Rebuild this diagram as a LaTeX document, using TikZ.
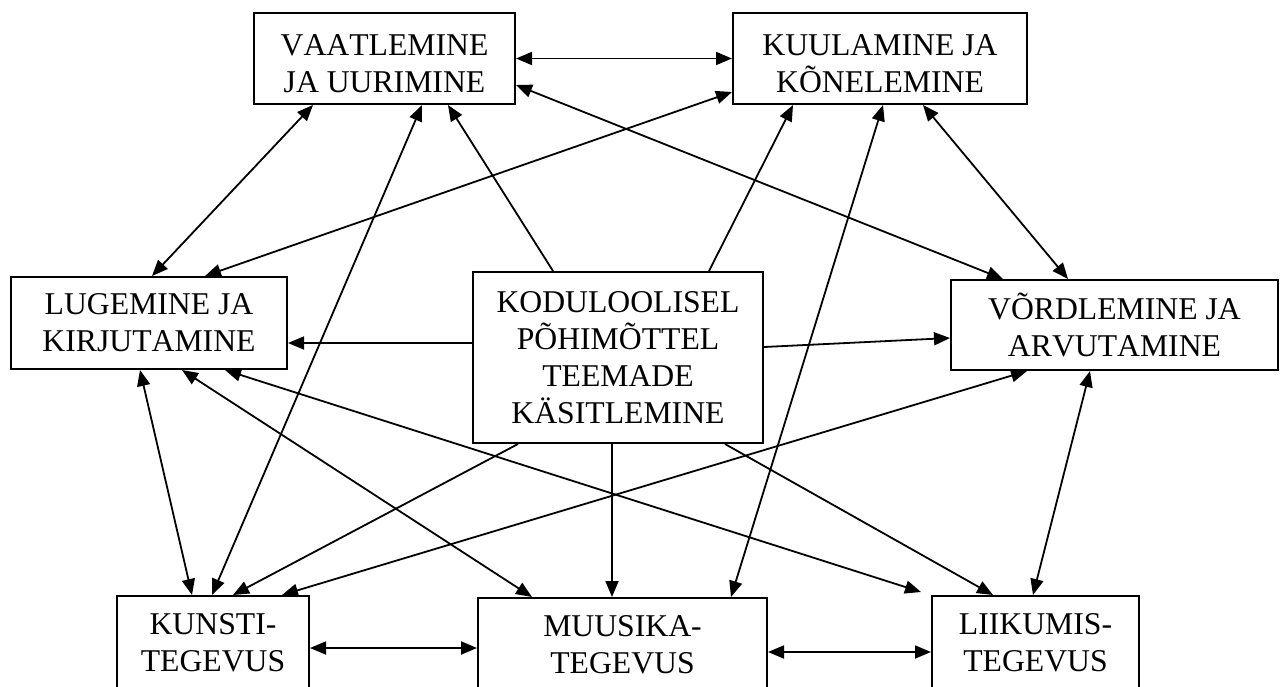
\documentclass[tikz,border=0pt]{standalone}
\usepackage{fontspec}
\setmainfont{Liberation Serif}[Kerning=Off]
\usetikzlibrary{arrows.meta}
\newcommand{\topgap}{\rule{0pt}{31pt}}
\tikzset{
  box/.style={draw, line width=2pt, align=center, inner sep=0pt,
    font=\fontsize{31.7}{37}\selectfont},
  link/.style={line width=1.8pt, -{Triangle[length=16pt,width=13pt]}},
  twoway/.style={line width=1.8pt,
    {Triangle[length=16pt,width=13pt]}-{Triangle[length=16pt,width=13pt]}},
}
\begin{document}
\begin{tikzpicture}[x=1pt,y=-1pt]
  \useasboundingbox (0,0) rectangle (1283,686);
  % boxes
  \node[box, minimum width=261pt, minimum height=91pt] (vaatl) at (384.5,58.5) {\topgap VAATLEMINE\\JA UURIMINE};
  \node[box, minimum width=294pt, minimum height=91pt] (kuul) at (880,58.5) {\topgap KUULAMINE JA\\KÕNELEMINE};
  \node[box, minimum width=276pt, minimum height=92pt] (luge) at (149,323) {LUGEMINE JA\\KIRJUTAMINE};
  \node[box, minimum width=290pt, minimum height=171pt] (kodu) at (618,357.5) {KODULOOLISEL\\PÕHIMÕTTEL\\TEEMADE\\KÄSITLEMINE};
  \node[box, minimum width=327pt, minimum height=90pt] (vord) at (1114.5,325) {VÕRDLEMINE JA\\ARVUTAMINE};
  \node[box, minimum width=192pt, minimum height=93pt] (kunsti) at (213,642.5) {KUNSTI-\\TEGEVUS};
  \node[box, minimum width=289pt, minimum height=94pt] (muus) at (622.5,645) {MUUSIKA-\\TEGEVUS};
  \node[box, minimum width=207pt, minimum height=94pt] (liik) at (1035.5,643) {LIIKUMIS-\\TEGEVUS};
  % from the centre box
  \draw[link] ([xshift=-65pt]kodu.north) -- ([xshift=63.5pt]vaatl.south);
  \draw[link] ([xshift=91pt]kodu.north) -- ([xshift=-87pt]kuul.south);
  \draw[link] ([yshift=14.5pt]kodu.west) -- ([yshift=-20pt]luge.east);
  \draw[link] ([yshift=10.5pt]kodu.east) -- ([yshift=-13pt]vord.west);
  \draw[link] ([xshift=-100pt]kodu.south) -- ([xshift=20pt]kunsti.north);
  \draw[link] ([xshift=-6pt]kodu.south) -- ([xshift=-10.5pt]muus.north);
  \draw[link] ([xshift=107pt]kodu.south) -- ([xshift=-42.5pt]liik.north);
  % both ways
  \draw[twoway] (vaatl.east) -- (kuul.west);
  \draw[twoway] ([yshift=-26.5pt]vaatl.east) -- ([xshift=-111.5pt]vord.north);
  \draw[twoway] ([yshift=-33.5pt]kuul.west) -- ([xshift=56pt]luge.north);
  \draw[twoway] ([xshift=-71.5pt]vaatl.south) -- ([xshift=3pt]luge.north);
  \draw[twoway] ([xshift=37.5pt]vaatl.south) -- ([xshift=-1pt]kunsti.north);
  \draw[twoway] ([xshift=3pt]kuul.south) -- ([xshift=108.5pt]muus.north);
  \draw[twoway] ([xshift=43pt]kuul.south) -- ([xshift=-46.5pt]vord.north);
  \draw[twoway] ([xshift=-9pt]luge.south) -- ([xshift=-21pt]kunsti.north);
  \draw[twoway] ([xshift=33pt]luge.south) -- ([xshift=-90.5pt]muus.north);
  \draw[twoway] ([xshift=76pt]luge.south) -- ([xshift=-10pt,yshift=3pt]liik.north west);
  \draw[twoway] ([xshift=-87.5pt]vord.south) -- ([xshift=69pt]kunsti.north);
  \draw[twoway] ([xshift=-24.5pt]vord.south) -- ([xshift=-2.5pt]liik.north);
  \draw[twoway] ([yshift=-5.5pt]kunsti.east) -- ([yshift=-3pt]muus.west);
  \draw[twoway] ([yshift=-7pt]muus.east) -- ([yshift=-9pt]liik.west);
\end{tikzpicture}
\end{document}
